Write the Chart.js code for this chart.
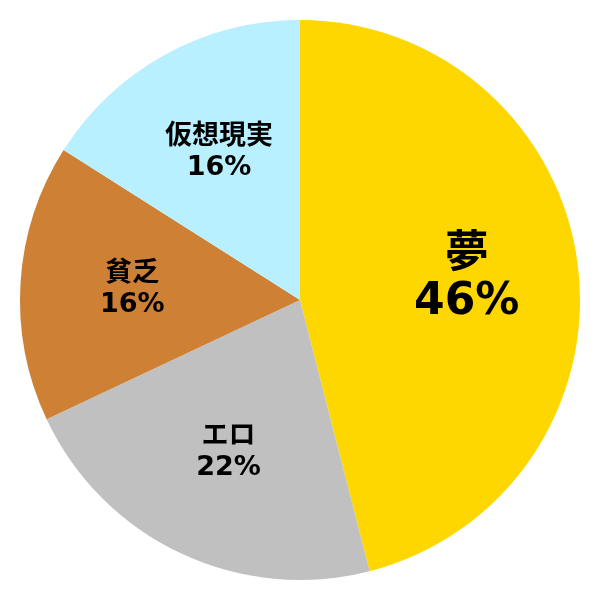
<!DOCTYPE html>
<html lang="ja">
<head>
  <meta charset="UTF-8">
  <title>Pie</title>
  <script src="https://cdn.jsdelivr.net/npm/chart.js"></script>
  <style>
    html, body { margin: 0; padding: 0; background: #fff; }
    #wrap { width: 600px; height: 600px; }
  </style>
</head>
<body>
<div id="wrap"><canvas id="pie" width="600" height="600"></canvas></div>
<script>
const labels = ['夢', 'エロ', '貧乏', '仮想現実'];
const values = [46, 22, 16, 16];
const colors = ['#FFD700', '#C0C0C0', '#CE8034', '#B8F0FF'];

// labels drawn inside each slice, name above percentage
const sliceLabels = {
  id: 'sliceLabels',
  afterDatasetsDraw(chart) {
    const ctx = chart.ctx;
    const arcs = chart.getDatasetMeta(0).data;
    const total = values.reduce((a, b) => a + b, 0);
    arcs.forEach((arc, i) => {
      const mid = (arc.startAngle + arc.endAngle) / 2;
      const r = arc.outerRadius * 0.6;
      const x = arc.x + Math.cos(mid) * r;
      const y = arc.y + Math.sin(mid) * r;
      const big = i === 0;
      const gap = big ? 47 : 31;
      const pct = Math.round(values[i] / total * 100) + '%';
      ctx.save();
      ctx.fillStyle = '#000';
      ctx.textAlign = 'center';
      ctx.textBaseline = 'middle';
      ctx.font = 'bold ' + (big ? 44 : 27) + 'px "DejaVu Sans", "Noto Sans CJK JP", sans-serif';
      ctx.fillText(labels[i], x, y - gap / 2);
      ctx.font = 'bold ' + (big ? 44 : 27) + 'px "DejaVu Sans", sans-serif';
      ctx.fillText(pct, x, y + gap / 2);
      ctx.restore();
    });
  }
};

new Chart(document.getElementById('pie'), {
  type: 'pie',
  data: {
    labels: labels,
    datasets: [{
      data: values,
      backgroundColor: colors,
      borderWidth: 0
    }]
  },
  options: {
    responsive: false,
    animation: false,
    layout: { padding: 20 },
    plugins: {
      legend: { display: false },
      tooltip: { enabled: false }
    }
  },
  plugins: [sliceLabels]
});
</script>
</body>
</html>
